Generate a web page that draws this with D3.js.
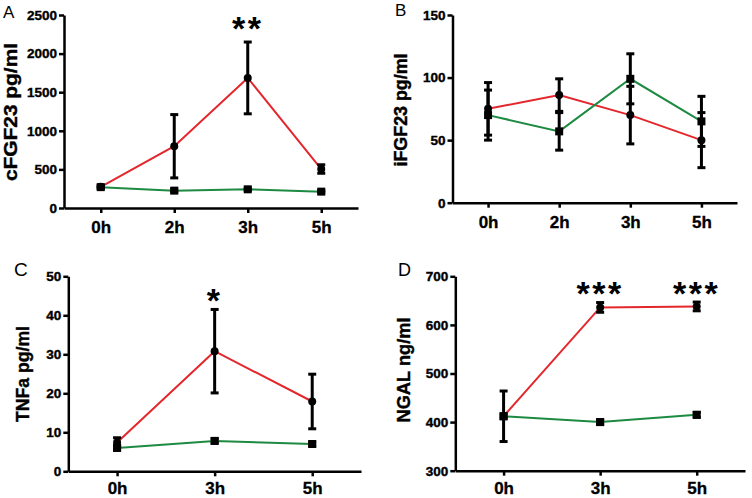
<!DOCTYPE html>
<html><head><meta charset="utf-8">
<script src="https://cdn.jsdelivr.net/npm/d3@7"></script>
<style>
body{margin:0;background:#fff;}
svg{display:block;font-family:"Liberation Sans",Arial,sans-serif;}
</style></head>
<body>
<svg id="chart" width="752" height="498"></svg>
<script>
// ---- data ----
const timesAB = ["0h", "2h", "3h", "5h"];
const timesCD = ["0h", "3h", "5h"];

const cfgfRed = [275, 800, 1685, 505];
const cfgfRedErr = [20, 410, 465, 55];
const cfgfGreen = [270, 225, 242, 212];
const cfgfGreenErr = [15, 18, 15, 15];

const ifgfRed = [75, 86, 70, 50];
const ifgfRedErr = [21, 13, 23, 22];
const ifgfGreen = [70, 57, 99, 65];
const ifgfGreenErr = [20, 15, 20, 20];

const tnfRed = [7.4, 30.8, 17.9];
const tnfRedErr = [1.2, 10.7, 7];
const tnfGreen = [6, 7.8, 7];
const tnfGreenErr = [0.6, 0.6, 0.5];

const ngalRed = [412, 636, 638];
const ngalRedErr = [52, 10, 9];
const ngalGreen = [412, 400, 415];
const ngalGreenErr = [5, 5, 5];

const ticksA = [0, 500, 1000, 1500, 2000, 2500];
const ticksB = [0, 50, 100, 150];
const ticksC = [0, 10, 20, 30, 40, 50];
const ticksD = [300, 400, 500, 600, 700];

const starsA = [{t: "3h", s: "**"}];
const starsC = [{t: "3h", s: "*"}];
const starsD = [{t: "3h", s: "***"}, {t: "5h", s: "***"}];

const RED = "#e3272d", GREEN = "#1d8a41";

const svg = d3.select("#chart");

function panel(o) {
  const g = svg.append("g");
  const x = d3.scalePoint().domain(o.cats).range([o.x0, o.x1]).padding(0.5);
  const y = d3.scaleLinear().domain(o.domain).range([o.y0, o.y1]);

  const ya = g.append("g").attr("transform", `translate(${o.x0},0)`)
    .call(d3.axisLeft(y).tickValues(o.ticks).tickFormat(d3.format("d"))
      .tickSize(5).tickSizeOuter(0).tickPadding(2));
  const xa = g.append("g").attr("transform", `translate(0,${o.y0})`)
    .call(d3.axisBottom(x).tickSize(5).tickSizeOuter(0).tickPadding(o.xpad));
  [ya, xa].forEach(a => {
    a.attr("font-family", "'Liberation Sans',Arial,sans-serif").attr("font-weight", "bold");
    a.select(".domain").attr("stroke", "#000").attr("stroke-width", 2.5);
    a.selectAll(".tick line").attr("stroke", "#000").attr("stroke-width", 2.5);
    a.selectAll("text").attr("fill", "#000").attr("font-weight", "bold");
  });
  ya.attr("font-size", 13.5);
  ya.selectAll("text").attr("font-size", 13.5).attr("stroke", "#000").attr("stroke-width", 0.4);
  xa.attr("font-size", 17);
  xa.selectAll("text").attr("font-size", 17).attr("dy", "0.71em")
    .attr("stroke", "#000").attr("stroke-width", 0.3);

  const series = [
    {m: o.red, e: o.redErr, c: RED, shape: "circle"},
    {m: o.green, e: o.greenErr, c: GREEN, shape: "square"}
  ];
  const line = d3.line().x((d, i) => x(o.cats[i])).y(d => y(d));
  series.forEach(s => {
    g.append("path").datum(s.m).attr("d", line).attr("fill", "none")
      .attr("stroke", s.c).attr("stroke-width", 2);
  });
  series.forEach(s => {
    s.m.forEach((v, i) => {
      const cx = x(o.cats[i]);
      const top = y(v + s.e[i]), bot = y(v - s.e[i]);
      g.append("line").attr("x1", cx).attr("x2", cx).attr("y1", top).attr("y2", bot)
        .attr("stroke", "#000").attr("stroke-width", 3);
      [top, bot].forEach(yy => g.append("line").attr("x1", cx - 4).attr("x2", cx + 4)
        .attr("y1", yy).attr("y2", yy).attr("stroke", "#000").attr("stroke-width", 3));
    });
  });
  series.forEach(s => {
    const sym = d3.symbol().type(s.shape === "circle" ? d3.symbolCircle : d3.symbolSquare)
      .size(s.shape === "circle" ? 50 : 64);
    g.selectAll(null).data(s.m).enter().append("path")
      .attr("d", sym)
      .attr("transform", (d, i) => `translate(${x(o.cats[i])},${y(d)})`)
      .attr("fill", "#000");
  });
  // stars
  o.stars.forEach(st => {
    g.append("text").attr("x", x(st.t)).attr("y", o.starY)
      .attr("text-anchor", "middle").attr("font-size", 34).attr("font-weight", "bold")
      .attr("letter-spacing", 2.5)
      .attr("fill", "#000").text(st.s);
  });
  // y title
  g.append("text")
    .attr("transform", `translate(${o.tx},${o.ty}) rotate(-90)`)
    .attr("text-anchor", "middle").attr("dy", "0.35em")
    .attr("font-size", 18.5).attr("font-weight", "bold").attr("fill", "#000")
    .attr("stroke", "#000").attr("stroke-width", 0.4)
    .attr("textLength", o.tlen).attr("lengthAdjust", "spacingAndGlyphs")
    .text(o.title);
  // panel letter
  g.append("text").attr("x", o.lx).attr("y", o.ly).attr("font-size", o.lsize)
    .attr("fill", "#000").text(o.letter);
}

panel({cats: timesAB, x0: 64, x1: 358, y0: 208, y1: 15, domain: [0, 2500], ticks: ticksA,
  red: cfgfRed, redErr: cfgfRedErr, green: cfgfGreen, greenErr: cfgfGreenErr, xpad: 8,
  stars: starsA, starY: 40, title: "cFGF23 pg/ml", tx: 11, ty: 112, tlen: 138,
  letter: "A", lx: 3, ly: 18, lsize: 17});
panel({cats: timesAB, x0: 452.5, x1: 737, y0: 202.7, y1: 15, domain: [0, 150], ticks: ticksB,
  red: ifgfRed, redErr: ifgfRedErr, green: ifgfGreen, greenErr: ifgfGreenErr, xpad: 8,
  stars: [], starY: 0, title: "iFGF23 pg/ml", tx: 401, ty: 110, tlen: 113,
  letter: "B", lx: 395, ly: 16, lsize: 17});
panel({cats: timesCD, x0: 68.3, x1: 361, y0: 471.3, y1: 276.3, domain: [0, 50], ticks: ticksC,
  red: tnfRed, redErr: tnfRedErr, green: tnfGreen, greenErr: tnfGreenErr, xpad: 6,
  stars: starsC, starY: 312, title: "TNFa pg/ml", tx: 23, ty: 374, tlen: 96,
  letter: "C", lx: 14, ly: 276, lsize: 19});
panel({cats: timesCD, x0: 455.3, x1: 745, y0: 470.7, y1: 276.3, domain: [300, 700], ticks: ticksD,
  red: ngalRed, redErr: ngalRedErr, green: ngalGreen, greenErr: ngalGreenErr, xpad: 6,
  stars: starsD, starY: 305, title: "NGAL ng/ml", tx: 404, ty: 370, tlen: 105,
  letter: "D", lx: 398, ly: 276, lsize: 18});
</script>
</body></html>
